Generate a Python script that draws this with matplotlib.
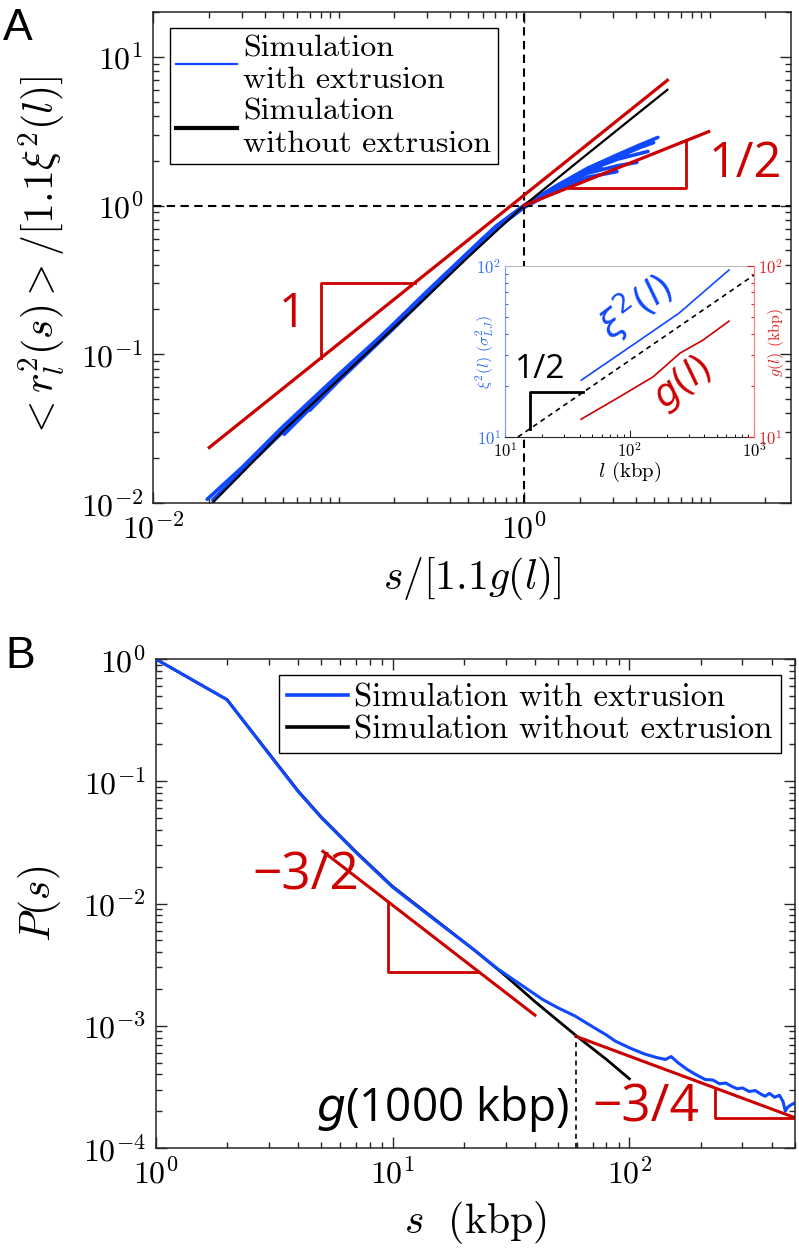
import numpy as np
import matplotlib
matplotlib.use('Agg')
from matplotlib import pyplot as plt
from matplotlib.lines import Line2D
from matplotlib.ticker import FixedLocator, LogLocator, NullFormatter, LogFormatterMathtext

plt.rcParams['font.family'] = 'serif'
plt.rcParams['font.serif'] = ['cmr10']
plt.rcParams['mathtext.fontset'] = 'cm'
plt.rcParams['axes.formatter.use_mathtext'] = True

BLUE = '#1048ff'
RED = '#cc0000'
DARK = '#262626'
SANS = ['Open Sans', 'DejaVu Sans']

# ---------------- panel A data ----------------
# simulation without extrusion (rescaled)
a_black_x = [0.0209, 0.03, 0.051, 0.1, 0.25, 0.5, 1.0, 2.0, 4.0, 5.93]
a_black_y = [0.01, 0.0158, 0.031, 0.0675, 0.197, 0.45, 1.0, 2.02, 4.05, 6.0]

# simulation with extrusion: one curve per genomic length l
a_blue_x = [
    [0.0196, 0.03, 0.05, 0.1, 0.2, 0.4, 0.7, 1.0, 1.5, 2.2, 3.2, 4.2, 5.27],
    [0.025, 0.05, 0.1, 0.2, 0.4, 0.7, 1.0, 1.5, 2.2, 3.2, 4.2, 5.0],
    [0.0365, 0.05, 0.1, 0.2, 0.4, 0.7, 1.0, 1.5, 2.2, 3.2, 4.66],
    [0.051, 0.1, 0.2, 0.4, 0.7, 1.0, 1.5, 2.2, 3.2, 4.06],
    [0.07, 0.1, 0.2, 0.4, 0.7, 1.0, 1.5, 2.2, 3.17],
    [0.11, 0.2, 0.4, 0.7, 1.0, 1.5, 2.0, 2.6],
    [0.021, 0.04, 0.08, 0.15, 0.3, 0.6, 1.0, 1.6, 2.4, 3.6],
]
a_blue_y = [
    [0.0106, 0.0172, 0.0325, 0.073, 0.16, 0.37, 0.72, 1.0, 1.36, 1.78, 2.2, 2.55, 2.87],
    [0.0128, 0.0315, 0.071, 0.157, 0.366, 0.713, 1.0, 1.35, 1.75, 2.12, 2.45, 2.65],
    [0.0205, 0.030, 0.069, 0.154, 0.36, 0.705, 0.99, 1.33, 1.72, 2.05, 2.31],
    [0.029, 0.067, 0.152, 0.356, 0.70, 0.98, 1.30, 1.65, 1.85, 1.95],
    [0.042, 0.066, 0.151, 0.352, 0.69, 0.97, 1.27, 1.55, 1.69],
    [0.077, 0.156, 0.358, 0.70, 0.98, 1.31, 1.6, 1.8],
    [0.0105, 0.0235, 0.055, 0.114, 0.265, 0.6, 1.0, 1.4, 1.82, 2.2],
]

# guide lines with slopes 1 and 1/2
a_slope1_x = [0.0201, 5.93]
a_slope1_y = [0.0236, 6.95]
a_tri1_x = [0.08, 0.08, 0.257]
a_tri1_y = [0.094, 0.30, 0.30]
a_slope12_x = [1.0, 9.9]
a_slope12_y = [1.0, 3.14]
a_tri12_x = [1.74, 7.5, 7.5]
a_tri12_y = [1.32, 1.32, 2.74]

# inset: xi^2(l) and g(l) against l (kbp)
in_l_xi = [41, 100, 250, 630]
in_xi = [21.5, 33.5, 53.0, 94.8]
in_l_g = [40.8, 83.5, 155, 254, 390, 630]
in_g = [12.7, 17.2, 22.5, 30.9, 36.9, 47.6]
in_ref_l = [12.7, 1000]
in_ref_y = [10.0, 88.5]
in_tri_x = [15.9, 15.9, 42.7]
in_tri_y = [11.1, 18.3, 18.3]

# ---------------- panel B data ----------------
b_black_s = [1, 2, 3, 4, 5, 7, 10, 15, 22, 30, 40, 60, 80, 100]
b_black_p = [1.0, 0.465, 0.17, 0.083, 0.051, 0.0265, 0.0138, 0.0075, 0.0042,
             0.00256, 0.00157, 0.00082, 0.00053, 0.000368]

b_blue_s = [1, 2, 3, 4, 5, 7, 10, 15, 22, 28, 35, 43, 50, 59, 70, 80, 87, 100,
            115, 130, 142, 150, 160, 175, 190, 209, 225, 240, 255, 270, 285,
            300, 320, 340, 360, 374, 390, 410, 430, 445, 455, 465, 480, 500]
b_blue_p = [1.0, 0.465, 0.168, 0.082, 0.0505, 0.0262, 0.0136, 0.0074, 0.0042,
            0.00289, 0.00215, 0.00164, 0.00140, 0.00120, 0.00098, 0.00084,
            0.00075, 0.00066, 0.00059, 0.00055, 0.00053, 0.00056, 0.00050,
            0.00044, 0.00040, 0.000363, 0.00036, 0.000335, 0.00034, 0.00032,
            0.000305, 0.00031, 0.00029, 0.000295, 0.000275, 0.000265, 0.00028,
            0.00026, 0.00027, 0.00024, 0.00020, 0.000215, 0.000225, 0.000234]

b_slope32_s = [5.08, 39.9]
b_slope32_p = [0.0267, 0.00122]
b_tri32_s = [9.6, 9.6, 23.0]
b_tri32_p = [0.0102, 0.00277, 0.00277]
b_slope34_s = [59.4, 500]
b_slope34_p = [0.00082, 0.000177]
b_tri34_s = [229, 229, 500]
b_tri34_p = [0.000298, 0.000177, 0.000177]
b_g1000 = 59.4


def style_axes(ax, size=23):
    ax.tick_params(which='both', direction='in', top=True, right=True,
                   color=DARK, width=1)
    ax.tick_params(which='major', length=8, labelsize=size, pad=7)
    ax.tick_params(which='minor', length=4)
    for sp in ax.spines.values():
        sp.set_color(DARK)
        sp.set_linewidth(1.1)


fig = plt.figure(figsize=(7.99, 12.49), dpi=100)

# ---------------- panel A ----------------
ax = fig.add_axes([153 / 799, 1 - 503 / 1249, 638 / 799, 491 / 1249])
ax.set_xscale('log')
ax.set_yscale('log')
for xs, ys in zip(a_blue_x, a_blue_y):
    ax.plot(xs, ys, color=BLUE, lw=2.6, solid_capstyle='round')
ax.plot(a_black_x, a_black_y, color='black', lw=1.6)
ax.axvline(1, color='black', lw=1.5, ls=(0, (4, 2.6)))
ax.axhline(1, color='black', lw=1.5, ls=(0, (4, 2.6)))
ax.plot(a_slope1_x, a_slope1_y, color=RED, lw=2.3)
ax.plot(a_tri1_x, a_tri1_y, color=RED, lw=2.0)
ax.plot(a_slope12_x, a_slope12_y, color=RED, lw=2.3)
ax.plot(a_tri12_x, a_tri12_y, color=RED, lw=2.0)
ax.text(0.056, 0.185, '1', color=RED, fontsize=34, family=SANS, ha='center', va='center')
ax.text(15.6, 1.89, '1/2', color=RED, fontsize=35, family=SANS, ha='center', va='center')

ax.set_xlim(0.01, 27.5)
ax.set_ylim(0.01, 20)
ax.xaxis.set_major_locator(FixedLocator([0.01, 1]))
ax.xaxis.set_major_formatter(LogFormatterMathtext())
ax.xaxis.set_minor_locator(LogLocator(base=10, subs=np.arange(1, 10), numticks=30))
ax.xaxis.set_minor_formatter(NullFormatter())
ax.yaxis.set_major_locator(LogLocator(base=10, numticks=10))
ax.yaxis.set_minor_locator(LogLocator(base=10, subs=np.arange(2, 10), numticks=30))
ax.yaxis.set_minor_formatter(NullFormatter())
style_axes(ax)
ax.set_xlabel(r'$s/[1.1g(l)]$', fontsize=30)
ax.set_ylabel(r'$<r_l^2(s)>/[1.1\xi^2(l)]$', fontsize=30)
ax.xaxis.set_label_coords(0.5, -0.105)
ax.yaxis.set_label_coords(-0.133, 0.5)

handles = [Line2D([], [], color=BLUE, lw=1.6), Line2D([], [], color='black', lw=3)]
leg = ax.legend(handles, ['Simulation\nwith extrusion', 'Simulation\nwithout extrusion'],
                loc='upper left', bbox_to_anchor=(0.0266, 0.967), borderaxespad=0,
                fontsize=23, fancybox=False, framealpha=1, edgecolor='black',
                handlelength=1.9, handletextpad=0.2, labelspacing=0.15, borderpad=0.2)
leg.get_frame().set_linewidth(1.0)

# inset
ins = fig.add_axes([505 / 799, 1 - 437 / 1249, 249 / 799, 171 / 1249])
ins.set_zorder(5)
ins.set_xscale('log')
ins.set_yscale('log')
ins.plot(in_l_xi, in_xi, color=BLUE, lw=1.2)
ins.plot(in_ref_l, in_ref_y, color='black', lw=1.2, ls=(0, (3, 2.5)))
ins.plot(in_tri_x, in_tri_y, color='black', lw=2.0)
ins.set_xlim(10, 1000)
ins.set_ylim(10, 100)
ins.text(19.1, 24.7, '1/2', color='black', fontsize=24, family=SANS, ha='center', va='center')
ins.text(113, 57.5, r'$\xi^2(l)$', color=BLUE, fontsize=27, family=SANS,
         math_fontfamily='dejavusans', rotation=37, ha='center', va='center')
ins.text(269, 20.7, r'$g(l)$', color=RED, fontsize=27, family=SANS,
         math_fontfamily='dejavusans', rotation=37, ha='center', va='center')
ins.tick_params(which='both', direction='in', top=False, right=False, width=0.8)
ins.tick_params(which='major', length=5, labelsize=12, pad=3)
ins.tick_params(which='minor', length=2.5)
ins.tick_params(axis='y', which='both', colors='#2f6ff5')
ins.tick_params(axis='x', which='both', color=DARK)
ins.yaxis.set_minor_formatter(NullFormatter())
ins.xaxis.set_minor_formatter(NullFormatter())
ins.spines['left'].set_color('#6f9dff')
ins.spines['right'].set_color('#ff8080')
ins.spines['top'].set_color('#bbbbbb')
ins.spines['bottom'].set_color(DARK)
ins.set_xlabel(r'$l$ (kbp)', fontsize=15, labelpad=0)
ins.set_ylabel(r'$\xi^2(l)\ (\sigma^2_{LJ})$', fontsize=11.5, color='#2f6ff5')
ins.yaxis.set_label_coords(-0.035, 0.5)

ins2 = ins.twinx()
ins2.set_yscale('log')
ins2.plot(in_l_g, in_g, color=RED, lw=1.2)
ins2.set_ylim(10, 100)
ins2.tick_params(which='both', direction='in', width=0.8, colors='#e02020')
ins2.tick_params(which='major', length=5, labelsize=12, pad=3)
ins2.tick_params(which='minor', length=2.5)
ins2.yaxis.set_minor_formatter(NullFormatter())
ins2.spines['right'].set_color('#ff8080')
ins2.spines['left'].set_visible(False)
ins2.spines['top'].set_visible(False)
ins2.spines['bottom'].set_visible(False)
ins2.set_ylabel(r'$g(l)$ (kbp)', fontsize=11.5, color='#e02020')
ins2.yaxis.set_label_coords(1.05, 0.55)

# ---------------- panel B ----------------
bx = fig.add_axes([155.7 / 799, 1 - 1148 / 1249, 639.3 / 799, 489 / 1249])
bx.set_xscale('log')
bx.set_yscale('log')
bx.plot(b_black_s, b_black_p, color='black', lw=2.0)
bx.plot(b_blue_s, b_blue_p, color=BLUE, lw=2.2)
bx.plot(b_slope32_s, b_slope32_p, color=RED, lw=2.2)
bx.plot(b_tri32_s, b_tri32_p, color=RED, lw=2.0)
bx.plot(b_slope34_s, b_slope34_p, color=RED, lw=2.2)
bx.plot(b_tri34_s, b_tri34_p, color=RED, lw=2.0)
bx.plot([b_g1000, b_g1000], [1e-4, b_slope34_p[0]], color='black', lw=1.2, ls=(0, (3, 2.5)))
bx.text(4.3, 0.0168, '\u22123/2', color=RED, fontsize=37, family=SANS, ha='center', va='center')
bx.text(117, 0.000212, '\u22123/4', color=RED, fontsize=37, family=SANS, ha='center', va='center')
bx.text(56, 0.000212, r'$g$(1000 kbp)', color='black', fontsize=33, family=SANS,
        math_fontfamily='dejavusans', ha='right', va='center')
bx.set_xlim(1, 500)
bx.set_ylim(1e-4, 1)
bx.xaxis.set_minor_locator(LogLocator(base=10, subs=np.arange(2, 10), numticks=30))
bx.xaxis.set_minor_formatter(NullFormatter())
bx.yaxis.set_major_locator(LogLocator(base=10, numticks=10))
bx.yaxis.set_minor_locator(LogLocator(base=10, subs=np.arange(2, 10), numticks=30))
bx.yaxis.set_minor_formatter(NullFormatter())
style_axes(bx)
bx.set_xlabel(r'$s\ \ \mathrm{(kbp)}$', fontsize=30)
bx.set_ylabel(r'$P(s)$', fontsize=30)
bx.xaxis.set_label_coords(0.5, -0.105)
bx.yaxis.set_label_coords(-0.145, 0.5)

handles = [Line2D([], [], color=BLUE, lw=2.6), Line2D([], [], color='black', lw=2.6)]
leg = bx.legend(handles, ['Simulation with extrusion', 'Simulation without extrusion'],
                loc='upper right', bbox_to_anchor=(0.978, 0.967), borderaxespad=0,
                fontsize=23.5, fancybox=False, framealpha=1, edgecolor='black',
                handlelength=1.85, handletextpad=0.2, labelspacing=0.1, borderpad=0.25)
leg.get_frame().set_linewidth(1.0)

fig.text(3 / 799, 1 - 8 / 1249, 'A', fontsize=32, family='Liberation Sans', ha='left', va='top')
fig.text(5 / 799, 1 - 636 / 1249, 'B', fontsize=32, family='Liberation Sans', ha='left', va='top')

fig.savefig('out.png', dpi=100)
